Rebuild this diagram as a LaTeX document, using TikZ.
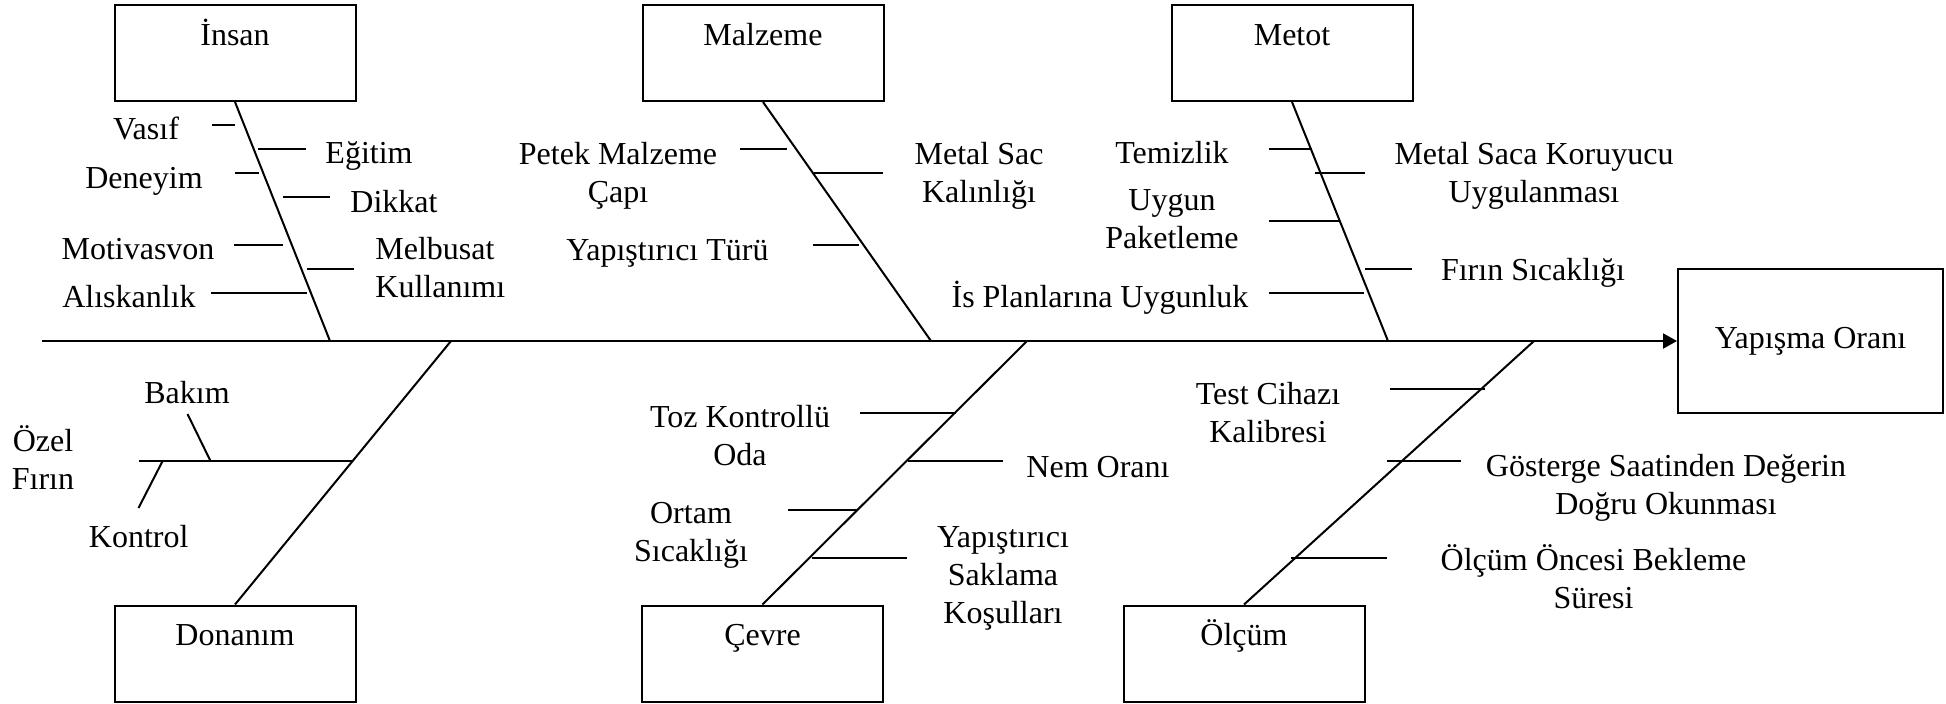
\documentclass[tikz,border=0pt]{standalone}
\usepackage{fontspec}
\setmainfont{Liberation Serif}
\usetikzlibrary{arrows.meta}
\begin{document}
\begin{tikzpicture}[x=0.5pt,y=-0.5pt,
  catbox/.style={draw, line width=1pt, minimum width=120.5pt, minimum height=48pt, inner sep=0pt},
  lbl/.style={anchor=base, align=center, inner sep=0pt, font=\fontsize{16}{19}\selectfont},
  lbll/.style={anchor=base west, align=left, inner sep=0pt, font=\fontsize{16}{19}\selectfont},
  ln/.style={line width=1pt},
]
\useasboundingbox (0,0) rectangle (1946,703);
% category boxes
\node[catbox] (insan) at (235,53) {};
\node[catbox] (malz) at (763,53) {};
\node[catbox] (metot) at (1292,53) {};
\node[catbox] (donan) at (235,653.5) {};
\node[catbox] (cevre) at (762.5,653.5) {};
\node[catbox] (olcum) at (1244,653.5) {};
\node[draw, line width=1pt, minimum width=132.5pt, minimum height=72pt, inner sep=0pt] (out) at (1810.5,341) {};
\node[lbl] (tinsan) at (235,45) {İnsan};
\node[lbl] (tmalz) at (763,45) {Malzeme};
\node[lbl] (tmetot) at (1292,45) {Metot};
\node[lbl] (tdonan) at (235,645) {Donanım};
\node[lbl] (tcevre) at (762.5,645) {Çevre};
\node[lbl] (tolcum) at (1244,645) {Ölçüm};
\node[lbl] (tout) at (1810.5,348) {Yapışma Oranı};
% main line
\coordinate (tail) at (42,341);
\coordinate (j1) at (330,341);
\coordinate (j2) at (931,341);
\coordinate (j3) at (1388,341);
\coordinate (j4) at (451,341);
\coordinate (j5) at (1027,341);
\coordinate (j6) at (1534,341);
\draw[ln, -{Triangle[length=7pt,width=7.5pt]}] (tail) -- (out.west);
\draw[ln] (insan.south) -- (j1);
\draw[ln] (malz.south) -- (j2);
\draw[ln] (metot.south) -- (j3);
\draw[ln] (donan.north) -- (j4);
\draw[ln] (cevre.north) -- (j5);
\draw[ln] (olcum.north) -- (j6);
% Insan ticks
\draw[ln] (212,125) -- (235,125);
\draw[ln] (258,149) -- (306,149);
\draw[ln] (235,173) -- (259,173);
\draw[ln] (283,197) -- (330,197);
\draw[ln] (234,245) -- (283,245);
\draw[ln] (307,269) -- (354,269);
\draw[ln] (211,293) -- (307,293);
\node[lbl] (vasif) at (146,139) {Vasıf};
\node[lbl] (egitim) at (369,163) {Eğitim};
\node[lbl] (deneyim) at (144,188) {Deneyim};
\node[lbl] (dikkat) at (394,212) {Dikkat};
\node[lbl] (motiv) at (138,259) {Motivasvon};
\node[lbll] (melbusat) at (375,297) {Melbusat\\Kullanımı};
\node[lbl] (alisk) at (129,307) {Alıskanlık};
% Malzeme ticks
\draw[ln] (740,149) -- (787,149);
\draw[ln] (814,173) -- (883,173);
\draw[ln] (813,245) -- (859,245);
\node[lbl] (petek) at (618,202) {Petek Malzeme\\Çapı};
\node[lbl] (metalsac) at (979,202) {Metal Sac\\Kalınlığı};
\node[lbl] (yapturu) at (667.5,260) {Yapıştırıcı Türü};
% Metot ticks
\draw[ln] (1269,149) -- (1312,149);
\draw[ln] (1315,173) -- (1365,173);
\draw[ln] (1269,221) -- (1340,221);
\draw[ln] (1365,269) -- (1412,269);
\draw[ln] (1269,293) -- (1364,293);
\node[lbl] (temiz) at (1172,163) {Temizlik};
\node[lbl] (koru) at (1534,202) {Metal Saca Koruyucu\\Uygulanması};
\node[lbl] (uygun) at (1172,248) {Uygun\\Paketleme};
\node[lbl] (firin) at (1533,280) {Fırın Sıcaklığı};
\node[lbl] (isplan) at (1100,307) {İs Planlarına Uygunluk};
% Donanim sub-branch
\coordinate (ozA) at (138.5,461);
\coordinate (ozB) at (353,461);
\draw[ln] (ozA) -- (ozB);
\draw[ln] (187.5,414) -- (210.5,461);
\draw[ln] (162.6,461) -- (138.5,508);
\node[lbl] (bakim) at (187,403) {Bakım};
\node[lbl] (ozel) at (43,489) {Özel\\Fırın};
\node[lbl] (kontrol) at (138.7,547) {Kontrol};
% Cevre ticks
\draw[ln] (860,413) -- (956,413);
\draw[ln] (908,461) -- (1003,461);
\draw[ln] (788,510) -- (858,510);
\draw[ln] (812,558) -- (907,558);
\node[lbl] (toz) at (740,465) {Toz Kontrollü\\Oda};
\node[lbl] (nem) at (1098,477) {Nem Oranı};
\node[lbl] (ortam) at (691,561) {Ortam\\Sıcaklığı};
\node[lbl] (sakl) at (1003,623) {Yapıştırıcı\\Saklama\\Koşulları};
% Olcum ticks
\draw[ln] (1390,389) -- (1485,389);
\draw[ln] (1387,461) -- (1461,461);
\draw[ln] (1291,558) -- (1387,558);
\node[lbl] (test) at (1268,442) {Test Cihazı\\Kalibresi};
\node[lbl] (goster) at (1666,514) {Gösterge Saatinden Değerin\\Doğru Okunması};
\node[lbl] (bekle) at (1593.5,608) {Ölçüm Öncesi Bekleme\\Süresi};
\end{tikzpicture}
\end{document}
